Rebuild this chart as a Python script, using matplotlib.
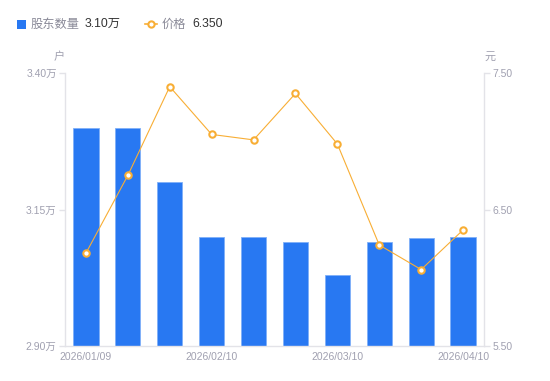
import matplotlib
matplotlib.use("Agg")
import matplotlib.pyplot as plt
from matplotlib.lines import Line2D
from matplotlib.ticker import FixedLocator, FuncFormatter

plt.rcParams['font.family'] = ['Liberation Sans', 'Noto Sans CJK SC', 'DejaVu Sans']

# ---- data ----
holders = [3.30, 3.30, 3.20, 3.10, 3.10, 3.09, 3.03, 3.09, 3.098, 3.10]   # 万户
prices = [6.18, 6.75, 7.40, 7.05, 7.01, 7.35, 6.98, 6.24, 6.06, 6.35]     # 元
xtick_pos = [0, 3, 6, 9]
xtick_labels = ['2026/01/09', '2026/02/10', '2026/03/10', '2026/04/10']
left_ticks = [2.90, 3.15, 3.40]
right_ticks = [5.50, 6.50, 7.50]
legend_holder_label, legend_holder_value = '股东数量', '3.10万'
legend_price_label, legend_price_value = '价格', '6.350'

BLUE = '#2878F2'
ORANGE = '#F8AE35'
GRAY_TXT = '#A0A0B0'
AXIS = '#E3E3E8'
CJK = ['Noto Sans CJK SC', 'DejaVu Sans']

fig = plt.figure(figsize=(5.5, 3.81), dpi=100)
ax = fig.add_axes([65/550, 1-346/381, (484-65)/550, (346-73)/381])
ax2 = ax.twinx()

x = list(range(len(holders)))
ax.bar(x, holders, width=0.6, color=BLUE, edgecolor='#7FB0F8', linewidth=0.6, zorder=2)
ax.set_ylim(2.90, 3.40)
ax.set_xlim(-0.5, len(holders) - 0.5)
ax.yaxis.set_major_locator(FixedLocator(left_ticks))
ax.yaxis.set_major_formatter(FuncFormatter(lambda v, p: f'{v:.2f}万'))
ax.set_xticks(xtick_pos)
ax.set_xticklabels(xtick_labels)

ax2.plot(x, prices, color=ORANGE, linewidth=0.8, marker='o', markersize=4.6,
         markerfacecolor='white', markeredgecolor=ORANGE, markeredgewidth=1.5, zorder=3)
ax2.set_ylim(5.50, 7.50)
ax2.yaxis.set_major_locator(FixedLocator(right_ticks))
ax2.yaxis.set_major_formatter(FuncFormatter(lambda v, p: f'{v:.2f}'))

for a in (ax, ax2):
    for s in a.spines.values():
        s.set_color(AXIS)
        s.set_linewidth(1)
    a.spines['top'].set_visible(False)
ax2.spines['left'].set_visible(False)
ax2.spines['bottom'].set_visible(False)
ax.spines['right'].set_visible(False)

ax.tick_params(axis='y', colors=AXIS, labelcolor=GRAY_TXT, labelsize=7.5, length=4, width=1, pad=2)
ax2.tick_params(axis='y', colors=AXIS, labelcolor=GRAY_TXT, labelsize=7.5, length=4, width=1, pad=2)
ax.tick_params(axis='x', length=0, labelcolor=GRAY_TXT, labelsize=7.5, pad=4)

ax.set_zorder(1)
ax2.set_zorder(2)
ax.patch.set_visible(False)

# unit labels
fig.text(59/550, 1-57/381, '户', color=GRAY_TXT, fontsize=8, ha='center', va='center', family=CJK)
fig.text(490/550, 1-57/381, '元', color=GRAY_TXT, fontsize=8, ha='center', va='center', family=CJK)

# legend
ly = 1 - 24/381
fig.patches.append(plt.Rectangle((16.5/550, 1-28.5/381), 9/550, 9/381, transform=fig.transFigure,
                                 facecolor=BLUE, edgecolor='none'))
fig.text(31/550, ly, legend_holder_label, color='#8A8A98', fontsize=8.8, ha='left', va='center', family=CJK)
fig.text(85/550, ly, legend_holder_value, color='#333333', fontsize=8.8, ha='left', va='center')
fig.lines.append(Line2D([145/550, 157/550], [ly, ly], transform=fig.transFigure, color=ORANGE, lw=1.2))
fig.lines.append(Line2D([151/550], [ly], transform=fig.transFigure, marker='o', markersize=4.5,
                        markerfacecolor='white', markeredgecolor=ORANGE, markeredgewidth=1.5))
fig.text(162/550, ly, legend_price_label, color='#8A8A98', fontsize=8.8, ha='left', va='center', family=CJK)
fig.text(192/550, ly, legend_price_value, color='#333333', fontsize=8.8, ha='left', va='center')

fig.savefig('out.png', dpi=100)
